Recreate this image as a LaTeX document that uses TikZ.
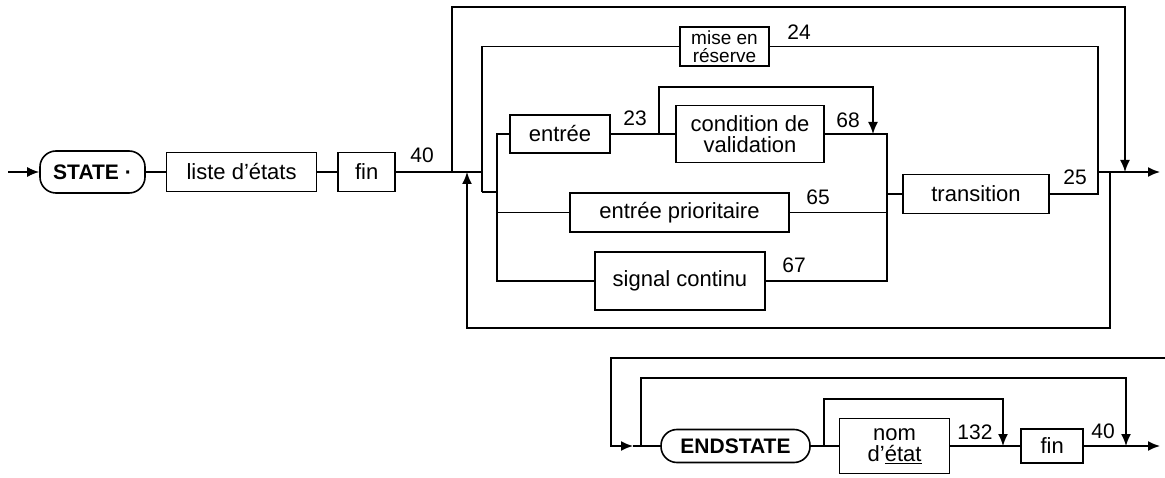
\documentclass[tikz,border=0pt]{standalone}
\usepackage{fontspec}
\setmainfont{Liberation Sans}
\usepackage{tikz}
\usetikzlibrary{positioning,arrows.meta}

\begin{document}
\begin{tikzpicture}[x=1pt,y=-1pt,line width=1.6pt,
    box/.style={draw,rectangle,inner sep=0pt,align=center,font=\fontsize{22}{21}\selectfont},
    term/.style={box,rounded corners=16pt,font=\fontsize{21}{21}\selectfont\bfseries},
    num/.style={font=\fontsize{21}{21}\selectfont},
    fl/.style={-{Latex[length=12pt,width=10pt]}}]
    \useasboundingbox (0,0) rectangle (1165,478);

    % STATE
    \node[term,minimum width=105pt,minimum height=42pt](state) at (92.5,172){STATE ·};
    \node[box,right = 20pt of state,minimum width=150pt,minimum height=39pt](liste){liste d'états};
    \node[box,right = 20pt of liste,minimum width=57pt,minimum height=39pt](fin1){fin};
    \node[box,minimum width=89pt,minimum height=39pt,font=\fontsize{19}{17.5}\selectfont](reserve) at (724.5,46.5){mise en\\réserve};
    \node[box,minimum width=100pt,minimum height=38pt](entree) at (560,134){entrée};
    \node[box,minimum width=148pt,minimum height=57pt](cond) at (750,134){condition de\\validation};
    \node[box,minimum width=219pt,minimum height=39pt](prio) at (679.5,212.5){entrée prioritaire};
    \node[box,minimum width=170pt,minimum height=58pt](signal) at (680,281){signal continu};
    \node[box,minimum width=146pt,minimum height=39pt](trans) at (976,194){transition};

    \node[num](n40) at (422,155){40};
    \node[num](n24) at (799,32){24};
    \node[num](n23) at (635,118){23};
    \node[num](n68) at (848,120){68};
    \node[num](n65) at (818,197){65};
    \node[num](n67) at (794,265){67};
    \node[num](n25) at (1075,177){25};

    \coordinate(in) at (8,172);
    \coordinate(j1) at (452,172);
    \coordinate(j2) at (467,172);
    \coordinate(j3) at (482,172);
    \coordinate(j4) at (482,192);
    \coordinate(b1) at (497,192);
    \coordinate(bp) at (497,212.5);
    \coordinate(bb) at (497,281);
    \coordinate(c1) at (659,134);
    \coordinate(c3) at (873,87);
    \coordinate(c2) at (873,134);
    \coordinate(rt) at (887,194);
    \coordinate(rp) at (887,212.5);
    \coordinate(rb) at (887,281);
    \coordinate(k1) at (1098,172);
    \coordinate(k2) at (1110,172);
    \coordinate(k3) at (1125,172);
    \coordinate(t2) at (1125,7);
    \coordinate(l2) at (467,328);
    \coordinate(out) at (1160,172);

    \draw[fl] (in) -- (state.west);
    \draw (state.east) -- (liste.west);
    \draw (liste.east) -- (fin1.west);
    \draw (fin1.east) -- (j3);
    \draw[fl] (j1) |- (t2) -- (k3);
    \draw (j4) |- (reserve.west);
    \draw (j4) -- (b1);
    \draw (entree.west) -| (bb) -- (signal.west);
    \draw (bp) -- (prio.west);
    \draw (entree.east) -- (cond.west);
    \draw[fl] (c1) |- (c3) -- (c2);
    \draw (cond.east) -| (rb) -- (signal.east);
    \draw (prio.east) -- (rp);
    \draw (rt) -- (trans.west);
    \draw (trans.east) -| (k1) |- (reserve.east);
    \draw[fl] (k1) -- (out);
    \draw[fl] (k2) |- (l2) -- (j2);

    % ENDSTATE
    \node[term,minimum width=149pt,minimum height=33pt](endst) at (735.5,446){ENDSTATE};
    \node[box,right = 28pt of endst,minimum width=110pt,minimum height=55pt](nom){nom\\d'\underline{état}};
    \node[box,right = 70pt of nom,minimum width=62pt,minimum height=34pt](fin2){fin};
    \node[num](n132) at (975,432){132};
    \node[num](n40b) at (1103,431){40};

    \coordinate(e0) at (1165,358);
    \coordinate(e2) at (611,446);
    \coordinate(e3) at (633,446);
    \coordinate(e4) at (641,446);
    \coordinate(e6) at (1126,378);
    \coordinate(e7) at (1126,446);
    \coordinate(f1) at (824,446);
    \coordinate(f3) at (1003,399);
    \coordinate(f4) at (1003,446);
    \coordinate(eout) at (1160,446);

    \draw[fl] (e0) -| (e2) -- (e3);
    \draw (e3) -- (endst.west);
    \draw[fl] (e4) |- (e6) -- (e7);
    \draw (endst.east) -- (nom.west);
    \draw[fl] (f1) |- (f3) -- (f4);
    \draw (nom.east) -- (fin2.west);
    \draw[fl] (fin2.east) -- (eout);
\end{tikzpicture}
\end{document}
